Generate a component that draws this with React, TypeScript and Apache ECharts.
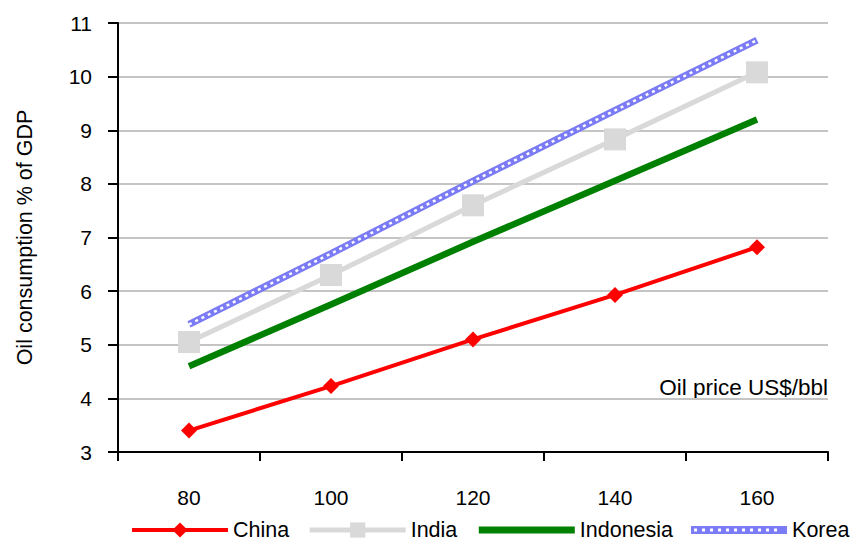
import React, { useEffect, useRef } from "react";
import * as echarts from "echarts";

const categories = ["80", "100", "120", "140", "160"];
const china = [3.4, 4.23, 5.1, 5.93, 6.82];
const india = [5.05, 6.3, 7.6, 8.83, 10.08];
const indonesia = [4.6, 5.75, 6.92, 8.06, 9.2];
const korea = [5.38, 6.7, 8.05, 9.37, 10.68];

const FONT = "'Liberation Sans', Arial, sans-serif";

function koreaIcon(): string {
  let d = "M0 0 H96 V8 H0 Z";
  for (let x = 3; x <= 88; x += 8) {
    d += ` M${x} 2.5 V5.5 H${x + 3} V2.5 Z`;
  }
  return "path://" + d;
}

export default function App() {
  const ref = useRef<HTMLDivElement>(null);
  useEffect(() => {
    const chart = echarts.init(ref.current!, undefined, { renderer: "svg" });
    chart.setOption({
      animation: false,
      textStyle: { fontFamily: FONT, color: "#000" },
      grid: { left: 118, right: 22, top: 23, bottom: 89, containLabel: false },
      legend: {
        data: [
          { name: "China", lineStyle: { width: 4 } },
          { name: "India", lineStyle: { width: 5 } },
          {
            name: "Indonesia",
            lineStyle: { width: 7 },
            itemStyle: { color: "transparent", borderColor: "transparent", borderWidth: 0 },
          },
          { name: "Korea", icon: koreaIcon() },
        ],
        top: 519,
        left: 130,
        width: 720,
        padding: 0,
        itemWidth: 96,
        itemHeight: 19,
        itemGap: 18,
        textStyle: { fontSize: 21.5, color: "#000", fontFamily: FONT },
      },
      xAxis: {
        type: "category",
        data: categories,
        boundaryGap: true,
        axisLine: { lineStyle: { color: "#000", width: 2 } },
        axisTick: { show: true, length: 9, lineStyle: { color: "#000", width: 2 } },
        axisLabel: { fontSize: 21, color: "#000", margin: 35, fontFamily: FONT },
        splitLine: { show: false },
      },
      yAxis: {
        type: "value",
        min: 3,
        max: 11,
        interval: 1,
        name: "Oil consumption % of GDP",
        nameLocation: "middle",
        nameGap: 82,
        nameTextStyle: { fontSize: 21.5, color: "#000", fontFamily: FONT },
        axisLine: { show: true, lineStyle: { color: "#000", width: 2 } },
        axisTick: { show: true, length: 10, lineStyle: { color: "#000", width: 2 } },
        axisLabel: { fontSize: 21, color: "#000", margin: 26, fontFamily: FONT },
        splitLine: { lineStyle: { color: "#c4c4c4", width: 2 } },
      },
      graphic: [
        {
          type: "text",
          right: 22,
          top: 376,
          style: { text: "Oil price US$/bbl", fontSize: 22.5, fill: "#000", fontFamily: FONT },
        },
      ],
      series: [
        {
          name: "Indonesia",
          type: "line",
          data: indonesia,
          symbol: "none",
          lineStyle: { color: "#008000", width: 6.5 },
          itemStyle: { color: "#008000" },
        },
        {
          name: "India",
          type: "line",
          data: india,
          symbol: "rect",
          symbolSize: 22,
          lineStyle: { color: "#d9d9d9", width: 5 },
          itemStyle: { color: "#d9d9d9" },
        },
        {
          name: "Korea",
          type: "line",
          data: korea,
          symbol: "none",
          lineStyle: { color: "#7b7bf5", width: 7 },
          itemStyle: { color: "#7b7bf5" },
        },
        {
          name: "KoreaOverlay",
          type: "line",
          data: korea,
          symbol: "none",
          silent: true,
          lineStyle: { color: "#ffffff", width: 2.5, type: [3, 4] },
        },
        {
          name: "China",
          type: "line",
          data: china,
          symbol: "diamond",
          symbolSize: 16,
          lineStyle: { color: "#ff0000", width: 4 },
          itemStyle: { color: "#ff0000" },
        },
      ],
    });
    return () => chart.dispose();
  }, []);
  return (
    <div
      ref={ref}
      style={{ position: "absolute", left: 0, top: 0, width: 850, height: 541 }}
    />
  );
}
